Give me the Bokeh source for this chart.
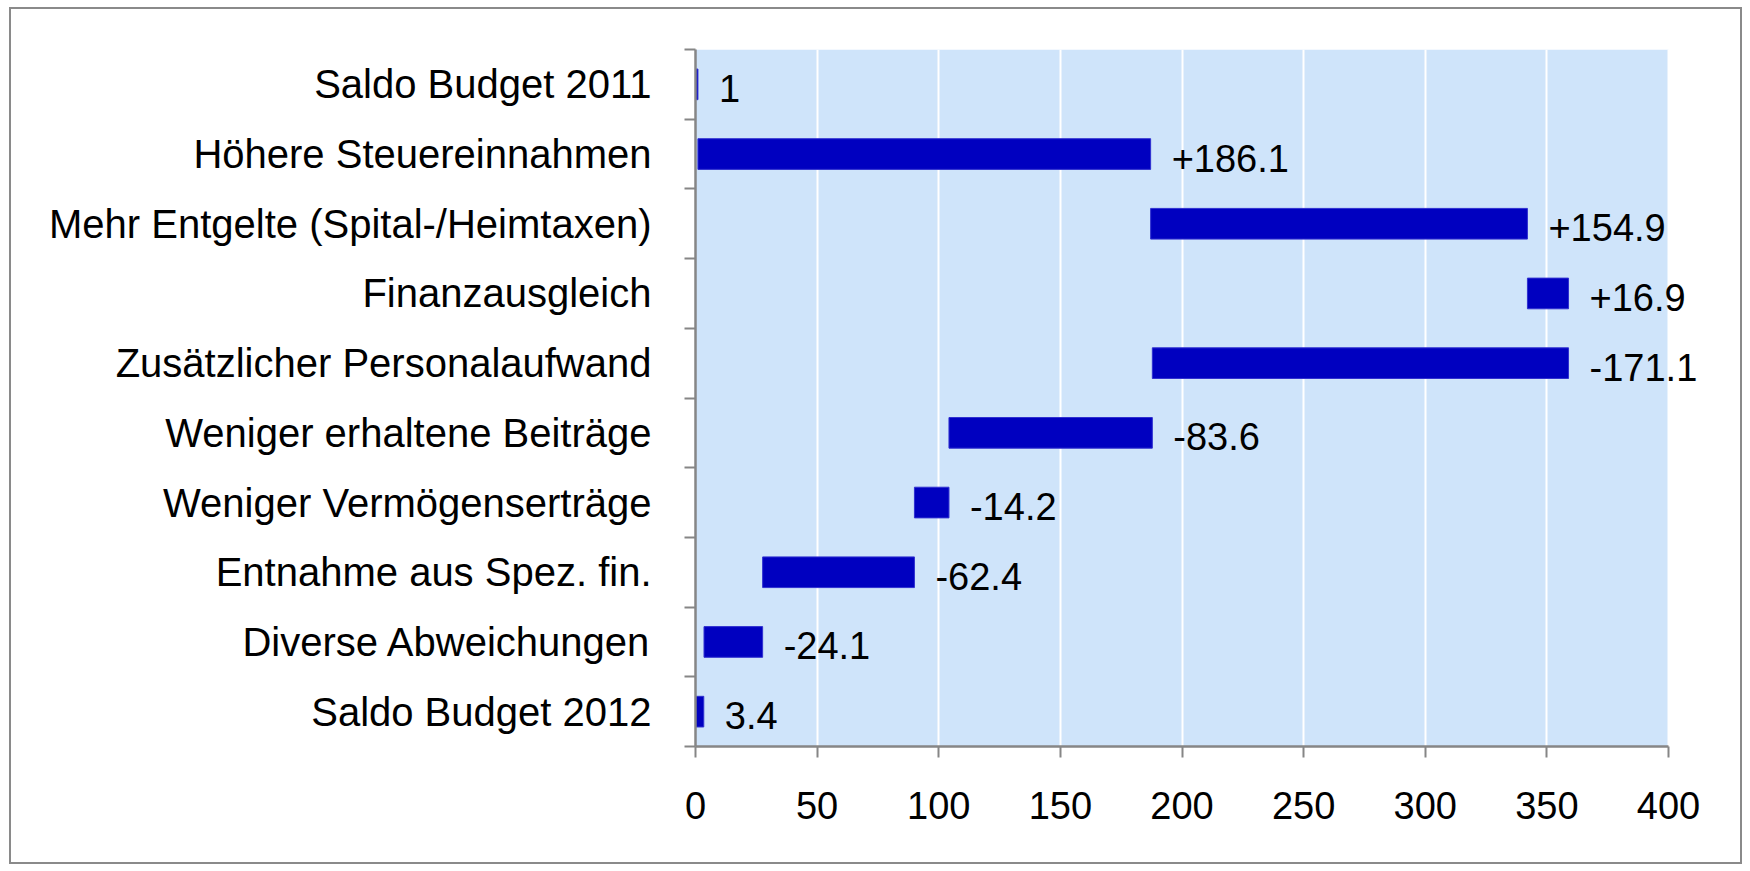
from bokeh.plotting import figure
from bokeh.models import ColumnDataSource, FixedTicker, Range1d, LabelSet, BoxAnnotation
from bokeh.embed import file_html
from bokeh.resources import INLINE
from bokeh.core.properties import value

categories = [
    "Saldo Budget 2011",
    "Höhere Steuereinnahmen",
    "Mehr Entgelte (Spital-/Heimtaxen)",
    "Finanzausgleich",
    "Zusätzlicher Personalaufwand",
    "Weniger erhaltene Beiträge",
    "Weniger Vermögenserträge",
    "Entnahme aus Spez. fin.",
    "Diverse Abweichungen",
    "Saldo Budget 2012",
]
values = [1, 186.1, 154.9, 16.9, -171.1, -83.6, -14.2, -62.4, -24.1, 3.4]
is_total = [True, False, False, False, False, False, False, False, False, True]
x_ticks = [0, 50, 100, 150, 200, 250, 300, 350, 400]
x_min, x_max = 0, 400

starts, ends, labels = [], [], []
running = 0.0
for v, t in zip(values, is_total):
    if t:
        starts.append(0.0)
        ends.append(v)
        running = v
        labels.append(f"{v:g}")
    else:
        starts.append(running)
        running += v
        ends.append(running)
        labels.append(f"{v:+.1f}")

ys = list(range(len(categories)))
src = ColumnDataSource(dict(
    y=ys,
    left=[min(a, b) for a, b in zip(starts, ends)],
    right=[max(a, b) for a, b in zip(starts, ends)],
    label=labels,
))

FONT = "Liberation Sans"

W, H = 1733, 857
ML, MT = 684, 40
PX_PER_UNIT = 973 / 400.0
X_EXT = 430  # extra room to the right for the value labels
FW, FH = int(round(X_EXT * PX_PER_UNIT)), 697

p = figure(
    width=W, height=H,
    x_range=Range1d(x_min, X_EXT), y_range=Range1d(len(categories) - 0.5, -0.5),
    output_backend="svg", toolbar_location=None,
    min_border_left=ML, min_border_right=W - ML - FW,
    min_border_top=MT, min_border_bottom=H - MT - FH,
)
p.styles = {"border": "2px solid #8a8a8a"}
p.margin = (7, 0, 0, 9)

p.background_fill_color = "white"
p.border_fill_color = "white"
p.outline_line_color = None

p.add_layout(BoxAnnotation(left=x_min, right=x_max, fill_color="#CFE4FA", fill_alpha=1.0,
                           line_color=None, level="image"))

p.hbar(y="y", left="left", right="right", height=0.44, source=src,
       fill_color="#0000C0", line_color="#3030D0", line_width=1)
p.add_layout(LabelSet(x="right", y="y", text="label", source=src, x_offset=21, y_offset=-4,
                      text_baseline="middle", text_align="left",
                      text_font=value(FONT), text_font_size=value("38px"), text_color="black"))

# x axis
p.xaxis.ticker = FixedTicker(ticks=x_ticks)
p.xaxis.bounds = (x_min, x_max)
p.xaxis.axis_line_color = "#868686"
p.xaxis.axis_line_width = 2.5
p.xaxis.major_tick_line_color = "#868686"
p.xaxis.major_tick_line_width = 2
p.xaxis.major_tick_out = 11
p.xaxis.major_tick_in = 0
p.xaxis.minor_tick_line_color = None
p.xaxis.major_label_text_font = FONT
p.xaxis.major_label_text_font_size = "38px"
p.xaxis.major_label_text_color = "black"
p.xaxis.major_label_standoff = 34

# y axis
p.yaxis.ticker = FixedTicker(ticks=ys, minor_ticks=[i - 0.5 for i in range(len(categories) + 1)])
p.yaxis.major_label_overrides = {i: c for i, c in zip(ys, categories)}
p.yaxis.axis_line_color = "#868686"
p.yaxis.axis_line_width = 2.5
p.yaxis.major_tick_line_color = None
p.yaxis.major_tick_out = 0
p.yaxis.major_tick_in = 0
p.yaxis.minor_tick_line_color = "#868686"
p.yaxis.minor_tick_line_width = 2
p.yaxis.minor_tick_out = 11
p.yaxis.minor_tick_in = 0
p.yaxis.major_label_text_font = FONT
p.yaxis.major_label_text_font_size = "40px"
p.yaxis.major_label_text_color = "black"
p.yaxis.major_label_standoff = 33

p.xgrid.grid_line_color = "white"
p.xgrid.grid_line_width = 2
p.xgrid.bounds = (-0.5, len(categories) - 0.5)
p.ygrid.grid_line_color = None

open("out.html", "w").write(file_html(p, INLINE))
